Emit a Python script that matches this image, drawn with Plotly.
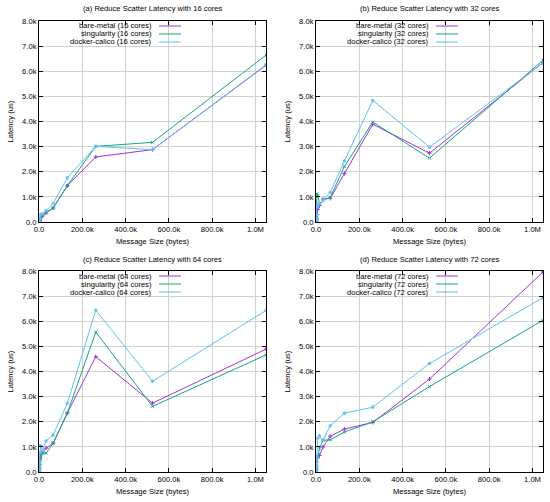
import plotly.graph_objects as go

# ---- data (latency in us) ----
msg_sizes = [4, 8, 16, 32, 64, 128, 256, 512, 1024, 2048, 4096, 8192,
             16384, 32768, 65536, 131072, 262144, 524288, 1048576]

core_counts = [16, 32, 64, 72]
panel_tags = ["(a)", "(b)", "(c)", "(d)"]

bare_16 = [12, 13, 14, 15, 17, 20, 24, 30, 40, 60, 100, 180, 250, 360, 560, 1450, 2590, 2880, 6240]
sing_16 = [13, 14, 15, 16, 18, 22, 26, 33, 45, 65, 110, 190, 260, 380, 560, 1450, 3010, 3170, 6640]
dock_16 = [20, 22, 24, 26, 30, 35, 40, 50, 70, 100, 160, 300, 320, 450, 750, 1760, 3010, 2880, 6260]

bare_32 = [25, 27, 30, 33, 38, 45, 55, 70, 100, 150, 300, 500, 650, 910, 940, 1930, 3890, 2740, 6350]
sing_32 = [30, 32, 35, 40, 45, 55, 70, 90, 130, 250, 1120, 1050, 700, 880, 980, 2210, 3980, 2540, 6440]
dock_32 = [35, 38, 42, 48, 55, 65, 80, 110, 160, 300, 600, 700, 720, 880, 1180, 2430, 4840, 2980, 6330]

bare_64 = [40, 45, 50, 55, 65, 80, 100, 130, 180, 300, 550, 700, 800, 950, 1150, 2350, 4590, 2740, 4890]
sing_64 = [45, 50, 55, 60, 70, 85, 110, 140, 200, 320, 400, 500, 750, 750, 1150, 2350, 5570, 2610, 4660]
dock_64 = [50, 55, 60, 70, 80, 100, 130, 170, 250, 450, 750, 1050, 850, 1240, 1470, 2740, 6440, 3610, 6430]

bare_72 = [50, 55, 60, 70, 80, 100, 130, 170, 250, 400, 550, 600, 660, 1000, 1420, 1710, 1970, 3700, 7960]
sing_72 = [55, 60, 65, 75, 85, 105, 135, 180, 260, 420, 580, 600, 950, 1260, 1280, 1590, 2000, 3400, 6040]
dock_72 = [60, 65, 70, 80, 95, 120, 160, 220, 320, 500, 600, 1350, 1440, 1270, 1840, 2340, 2580, 4320, 6940]

series_names = ["bare-metal", "singularity", "docker-calico"]
series_colors = ["#a030e0", "#10a878", "#60c0f0"]
series_symbols = ["cross-thin", "x-thin", "asterisk"]

x_tickvals = [0, 200000, 400000, 600000, 800000, 1000000]
x_ticktext = ["0.0", "200.0k", "400.0k", "600.0k", "800.0k", "1.0M"]
y_tickvals = [0, 1000, 2000, 3000, 4000, 5000, 6000, 7000, 8000]
y_ticktext = ["0.0", "1.0k", "2.0k", "3.0k", "4.0k", "5.0k", "6.0k", "7.0k", "8.0k"]

panels = [
    (bare_16, sing_16, dock_16),
    (bare_32, sing_32, dock_32),
    (bare_64, sing_64, dock_64),
    (bare_72, sing_72, dock_72),
]

# ---- layout geometry (pixel boxes of the four plot areas) ----
W, H = 550, 502
x_px = [(39, 266), (316, 543)]
y_px = [(21, 222), (271, 472)]
x_doms = [[a / W, b / W] for a, b in x_px]
y_doms = [[1 - b / H, 1 - a / H] for a, b in y_px]
FONT = "Liberation Sans, Arial, sans-serif"
FS = 7.6

fig = go.Figure()
layout = dict(
    width=W, height=H,
    margin=dict(l=0, r=0, t=0, b=0, autoexpand=False),
    paper_bgcolor="white", plot_bgcolor="white",
    showlegend=False,
    font=dict(family=FONT, size=FS, color="black"),
)
annotations = []
shapes = []

for i, (cores, tag, data) in enumerate(zip(core_counts, panel_tags, panels)):
    row, col = divmod(i, 2)
    n = i + 1
    xa = "x" if n == 1 else f"x{n}"
    ya = "y" if n == 1 else f"y{n}"

    for name, color, sym, vals in zip(series_names, series_colors, series_symbols, data):
        fig.add_trace(go.Scatter(
            x=msg_sizes, y=vals, xaxis=xa, yaxis=ya,
            mode="lines+markers", name=f"{name} ({cores} cores)",
            line=dict(color=color, width=1),
            marker=dict(symbol=sym, size=3, color=color,
                        line=dict(color=color, width=1)),
        ))

    axis_common = dict(
        showline=True, linecolor="black", linewidth=1, mirror="ticks",
        ticks="inside", ticklen=4, tickcolor="black",
        showgrid=True, gridcolor="#d0d0d0", gridwidth=1,
        zeroline=False, tickfont=dict(size=FS), automargin=False,
    )
    layout["xaxis" if n == 1 else f"xaxis{n}"] = dict(
        axis_common, domain=x_doms[col], anchor=ya,
        range=[0, 1048576], tickvals=x_tickvals, ticktext=x_ticktext,
    )
    layout["yaxis" if n == 1 else f"yaxis{n}"] = dict(
        axis_common, domain=y_doms[row], anchor=xa,
        range=[0, 8000], tickvals=y_tickvals, ticktext=y_ticktext,
    )

    x0, x1 = x_px[col]
    y0, y1 = y_px[row]
    # panel title
    annotations.append(dict(
        text=f"{tag} Reduce Scatter Latency with {cores} cores",
        xref="paper", yref="paper",
        x=(x0 + x1) / 2 / W, y=1 - (y0 - 12) / H,
        xanchor="center", yanchor="middle", showarrow=False,
        font=dict(size=FS),
    ))
    # axis titles
    annotations.append(dict(
        text="Message Size (bytes)", xref="paper", yref="paper",
        x=(x0 + x1) / 2 / W, y=1 - (y1 + 19) / H,
        xanchor="center", yanchor="middle", showarrow=False,
        font=dict(size=FS),
    ))
    annotations.append(dict(
        text="Latency (us)", xref="paper", yref="paper",
        x=(x0 - 29) / W, y=1 - (y0 + y1) / 2 / H, textangle=-90,
        xanchor="center", yanchor="middle", showarrow=False,
        font=dict(size=FS),
    ))

    # gnuplot-style key: right-aligned text, sample line to the right
    for k, (name, color) in enumerate(zip(series_names, series_colors)):
        yy = 1 - (5 + 8 * k) / 201
        annotations.append(dict(
            text=f"{name} ({cores} cores)",
            xref=f"{xa} domain", yref=f"{ya} domain",
            x=115 / 227, y=yy, xanchor="right", yanchor="middle",
            showarrow=False, font=dict(size=FS),
        ))
        shapes.append(dict(
            type="line", xref=f"{xa} domain", yref=f"{ya} domain",
            x0=120 / 227, x1=142 / 227, y0=yy, y1=yy,
            line=dict(color=color, width=1),
        ))

layout["annotations"] = annotations
layout["shapes"] = shapes
fig.update_layout(**layout)

# drop the browser's default 8px body margin so the figure sits at (0, 0)
fig.write_html("out.html", config={"displayModeBar": False},
               post_script="document.body.style.margin='0';")
